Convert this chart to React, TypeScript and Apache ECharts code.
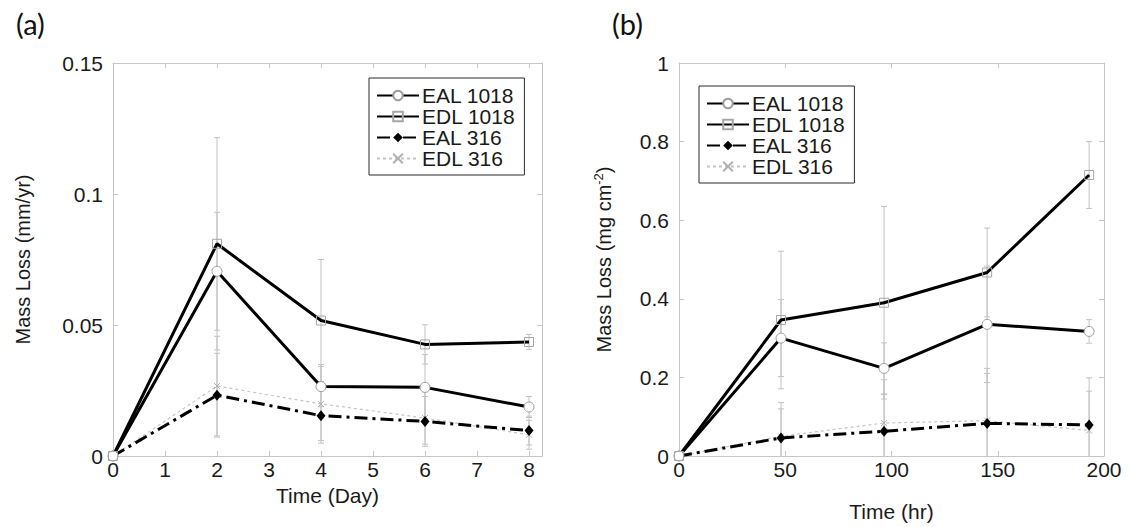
import React, { useEffect, useRef } from "react";
import * as echarts from "echarts";

// Series names (legend order)
const seriesNames = ["EAL 1018", "EDL 1018", "EAL 316", "EDL 316"];

// Panel (a): mass loss rate vs. exposure time in days
const dayTimes = [0, 2, 4, 6, 8];
const dayEAL1018 = [0, 0.0705, 0.0265, 0.0262, 0.0187];
const dayEDL1018 = [0, 0.081, 0.0517, 0.0426, 0.0435];
const dayEAL316 = [0, 0.0232, 0.0154, 0.0132, 0.0097];
const dayEDL316 = [0, 0.0267, 0.0199, 0.0145, 0.0081];
const dayErrEAL1018 = [0, 0.0225, 0.0077, 0.0125, 0.004];
const dayErrEDL1018 = [0, 0.0405, 0.0233, 0.0075, 0.0029];
const dayErrEAL316 = [0, 0.016, 0.0095, 0.0095, 0.0055];
const dayErrEDL316 = [0, 0.019, 0.015, 0.01, 0.0055];

// Panel (b): cumulative mass loss vs. exposure time in hours
const hrTimes = [0, 48, 96.5, 145, 193];
const hrEAL1018 = [0, 0.3, 0.223, 0.335, 0.317];
const hrEDL1018 = [0, 0.346, 0.39, 0.467, 0.715];
const hrEAL316 = [0, 0.046, 0.063, 0.083, 0.079];
const hrEDL316 = [0, 0.05, 0.084, 0.09, 0.065];
const hrErrEAL1018 = [0, 0.098, 0.065, 0.148, 0.03];
const hrErrEDL1018 = [0, 0.175, 0.245, 0.113, 0.085];
const hrErrEAL316 = [0, 0.09, 0.094, 0.14, 0.12];
const hrErrEDL316 = [0, 0.07, 0.11, 0.12, 0.1];

const FONT = "'Liberation Sans', Arial, Helvetica, sans-serif";
const TEXT = "#1a1a1a";
const FRAME = "#c6c6c6";

const styles: Record<string, any> = {
  "EAL 1018": {
    symbol: "circle",
    symbolSize: 10,
    itemStyle: { color: "#ffffff", borderColor: "#9c9c9c", borderWidth: 1 },
    lineStyle: { color: "#000000", width: 3, type: "solid" },
  },
  "EDL 1018": {
    symbol: "rect",
    symbolSize: 9,
    itemStyle: { color: "rgba(0,0,0,0)", borderColor: "#a6a6a6", borderWidth: 1 },
    lineStyle: { color: "#000000", width: 3, type: "solid" },
  },
  "EAL 316": {
    symbol: "diamond",
    symbolSize: [9, 11],
    itemStyle: { color: "#000000" },
    lineStyle: { color: "#000000", width: 3, type: [13, 5, 3, 5] },
  },
  "EDL 316": {
    symbol: "path://M0,0L10,10M10,0L0,10",
    symbolSize: 6,
    itemStyle: { color: "rgba(0,0,0,0)", borderColor: "#b0b0b0", borderWidth: 1 },
    lineStyle: { color: "#c4c4c4", width: 1.2, type: [3, 3] },
  },
};

function lineSeries(name: string, axis: number, times: number[], values: number[]) {
  const s = styles[name];
  return {
    type: "line",
    name,
    xAxisIndex: axis,
    yAxisIndex: axis,
    data: times.map((t, i) => [t, values[i]]),
    symbol: s.symbol,
    symbolSize: s.symbolSize,
    showAllSymbol: true,
    itemStyle: s.itemStyle,
    lineStyle: s.lineStyle,
    z: 3,
  };
}

function errorSeries(axis: number, times: number[], values: number[], errs: number[]) {
  return {
    type: "custom",
    xAxisIndex: axis,
    yAxisIndex: axis,
    silent: true,
    z: 1,
    encode: { x: 0, y: 1 },
    data: times.map((t, i) => [t, values[i], errs[i]]),
    renderItem: (_params: any, api: any) => {
      const x = api.value(0);
      const y = api.value(1);
      const e = api.value(2);
      if (!e) return null;
      const hi = api.coord([x, y + e]);
      const loVal = Math.max(y - e, 0);
      const lo = api.coord([x, loVal]);
      const cw = 3;
      const style = { stroke: "#c2c2c2", lineWidth: 1 };
      const children: any[] = [
        { type: "line", shape: { x1: hi[0], y1: hi[1], x2: lo[0], y2: lo[1] }, style },
        { type: "line", shape: { x1: hi[0] - cw, y1: hi[1], x2: hi[0] + cw, y2: hi[1] }, style },
      ];
      if (y - e > 0) {
        children.push({
          type: "line",
          shape: { x1: lo[0] - cw, y1: lo[1], x2: lo[0] + cw, y2: lo[1] },
          style,
        });
      }
      return { type: "group", children };
    },
  };
}

function frameAxis(base: any, position: string, gridIndex: number) {
  return {
    ...base,
    gridIndex,
    position,
    axisLine: { show: true, onZero: false, lineStyle: { color: FRAME, width: 1 } },
    axisTick: { show: true, inside: true, length: 5, lineStyle: { color: FRAME } },
    axisLabel: { show: false },
    splitLine: { show: false },
  };
}

function mainAxis(base: any, position: string, gridIndex: number, extra: any) {
  return {
    ...base,
    gridIndex,
    position,
    axisLine: { show: true, onZero: false, lineStyle: { color: FRAME, width: 1 } },
    axisTick: { show: true, inside: true, length: 5, lineStyle: { color: FRAME } },
    splitLine: { show: false },
    nameLocation: "middle",
    nameTextStyle: { fontFamily: FONT, fontSize: 20, color: TEXT },
    ...extra,
  };
}

export default function App() {
  const ref = useRef<HTMLDivElement>(null);

  useEffect(() => {
    if (!ref.current) return;
    const chart = echarts.init(ref.current, undefined, { renderer: "svg" });

    const dayX = { type: "value", min: 0, max: 8.25, interval: 1 };
    const hrX = { type: "value", min: 0, max: 200, interval: 50 };
    const dayY = { type: "value", min: 0, max: 0.15, interval: 0.05 };
    const hrY = { type: "value", min: 0, max: 1, interval: 0.2 };

    const labelStyle = { fontFamily: FONT, fontSize: 21, color: TEXT };

    const legendBase = {
      orient: "vertical",
      data: seriesNames,
      backgroundColor: "#ffffff",
      borderColor: "#2a2a2a",
      borderWidth: 1,
      borderRadius: 0,
      padding: [7, 9, 6, 7],
      itemWidth: 42,
      itemHeight: 12,
      itemGap: 0,
      selectedMode: false,
      textStyle: { fontFamily: FONT, fontSize: 21, color: TEXT, padding: [0, 0, 0, -2] },
    };

    const option: any = {
      animation: false,
      backgroundColor: "#ffffff",
      grid: [
        { left: 113, top: 63, width: 429, height: 393 },
        { left: 679, top: 63, width: 425, height: 393 },
      ],
      xAxis: [
        mainAxis(dayX, "bottom", 0, {
          name: "Time (Day)",
          nameGap: 24,
          nameTextStyle: { fontFamily: FONT, fontSize: 21, color: TEXT },
          axisLabel: { ...labelStyle, margin: 3, showMaxLabel: false },
        }),
        mainAxis(hrX, "bottom", 1, {
          name: "Time (hr)",
          nameGap: 45,
          nameTextStyle: { fontFamily: FONT, fontSize: 21, color: TEXT },
          axisLabel: { ...labelStyle, margin: 3 },
        }),
        frameAxis(dayX, "top", 0),
        frameAxis(hrX, "top", 1),
      ],
      yAxis: [
        mainAxis(dayY, "left", 0, {
          name: "Mass Loss (mm/yr)",
          nameGap: 80,
          nameRotate: 90,
          axisLabel: { ...labelStyle, margin: 10 },
        }),
        mainAxis(hrY, "left", 1, {
          name: "Mass Loss (mg cm{sup|-2})",
          nameGap: 63,
          nameRotate: 90,
          nameTextStyle: {
            fontFamily: FONT,
            fontSize: 20,
            color: TEXT,
            rich: {
              sup: { fontFamily: FONT, fontSize: 13, color: TEXT, verticalAlign: "top", lineHeight: 24 },
            },
          },
          axisLabel: { ...labelStyle, margin: 10 },
        }),
        frameAxis(dayY, "right", 0),
        frameAxis(hrY, "right", 1),
      ],
      legend: [
        { ...legendBase, left: 369, top: 78 },
        { ...legendBase, left: 699, top: 86 },
      ],
      graphic: [
        {
          type: "text",
          left: 16,
          top: 9,
          style: { text: "(a)", fontFamily: "Lato, 'Open Sans', sans-serif", fontSize: 29, fill: "#111" },
        },
        {
          type: "text",
          left: 612,
          top: 9,
          style: { text: "(b)", fontFamily: "Lato, 'Open Sans', sans-serif", fontSize: 29, fill: "#111" },
        },
      ],
      series: [
        errorSeries(0, dayTimes, dayEAL1018, dayErrEAL1018),
        errorSeries(0, dayTimes, dayEDL1018, dayErrEDL1018),
        errorSeries(0, dayTimes, dayEAL316, dayErrEAL316),
        errorSeries(0, dayTimes, dayEDL316, dayErrEDL316),
        errorSeries(1, hrTimes, hrEAL1018, hrErrEAL1018),
        errorSeries(1, hrTimes, hrEDL1018, hrErrEDL1018),
        errorSeries(1, hrTimes, hrEAL316, hrErrEAL316),
        errorSeries(1, hrTimes, hrEDL316, hrErrEDL316),
        lineSeries("EDL 316", 0, dayTimes, dayEDL316),
        lineSeries("EAL 316", 0, dayTimes, dayEAL316),
        lineSeries("EAL 1018", 0, dayTimes, dayEAL1018),
        lineSeries("EDL 1018", 0, dayTimes, dayEDL1018),
        lineSeries("EDL 316", 1, hrTimes, hrEDL316),
        lineSeries("EAL 316", 1, hrTimes, hrEAL316),
        lineSeries("EAL 1018", 1, hrTimes, hrEAL1018),
        lineSeries("EDL 1018", 1, hrTimes, hrEDL1018),
      ],
    };

    chart.setOption(option);
    return () => chart.dispose();
  }, []);

  return (
    <div
      ref={ref}
      style={{ position: "fixed", left: 0, top: 0, width: 1131, height: 527, background: "#fff" }}
    />
  );
}
